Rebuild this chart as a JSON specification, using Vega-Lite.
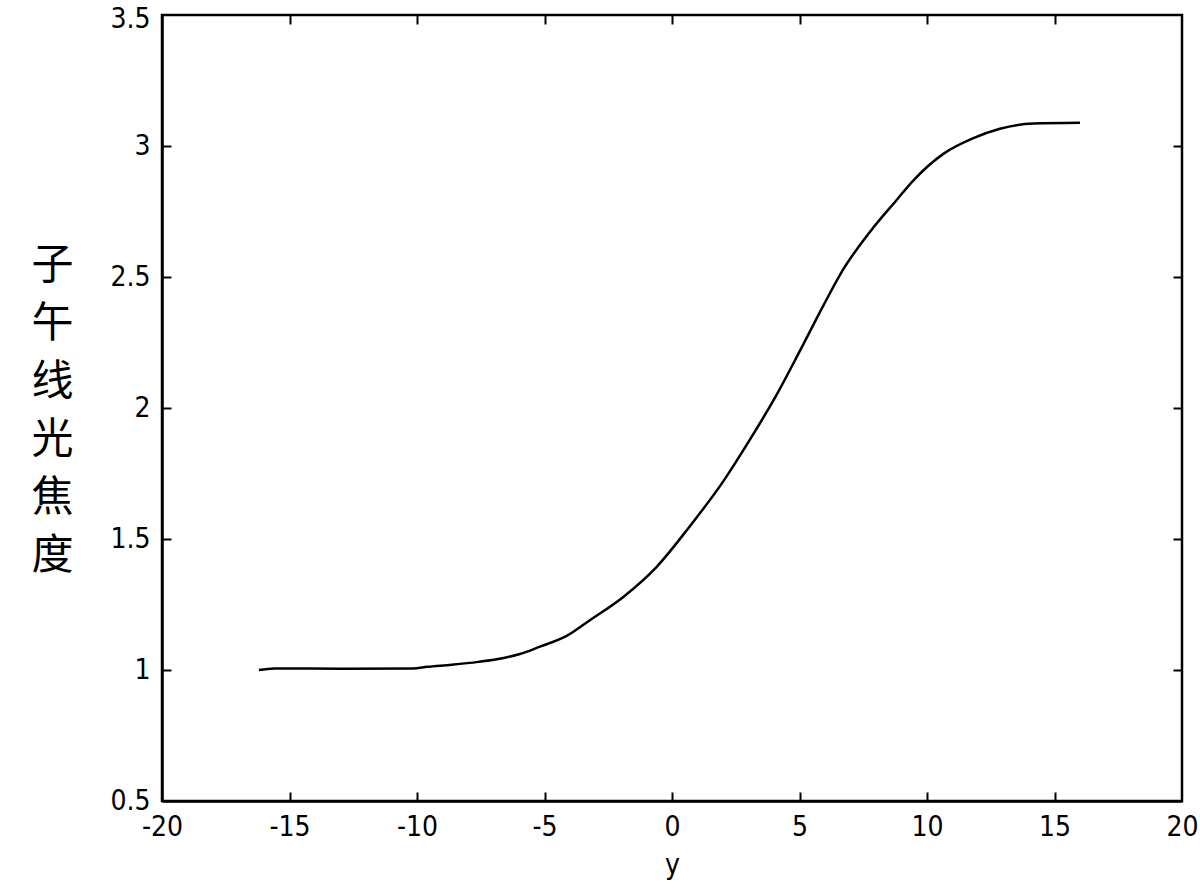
{
  "$schema": "https://vega.github.io/schema/vega-lite/v6.json",
  "width": 1020,
  "height": 786,
  "autosize": "none",
  "padding": {"left": 162, "top": 15, "right": 18, "bottom": 87},
  "background": "white",
  "config": {
    "view": {"stroke": "black", "strokeWidth": 2.5},
    "axis": {"grid": false, "domainColor": "black", "domainWidth": 2.5, "tickColor": "black", "tickWidth": 2, "labelColor": "black", "titleColor": "black", "labelFont": "DejaVu Sans Condensed, DejaVu Sans, sans-serif", "titleFont": "DejaVu Sans Condensed, DejaVu Sans, sans-serif"}
  },
  "data": {
    "values": [
      {"x": -16.2, "f": 1.0},
      {"x": -15.6, "f": 1.006},
      {"x": -13, "f": 1.005},
      {"x": -10.15, "f": 1.006},
      {"x": -9.6, "f": 1.012},
      {"x": -8.64, "f": 1.02},
      {"x": -7.6, "f": 1.031},
      {"x": -6.6, "f": 1.046},
      {"x": -6.0, "f": 1.06},
      {"x": -5.18, "f": 1.089},
      {"x": -4.13, "f": 1.13},
      {"x": -3.22, "f": 1.19},
      {"x": -1.91, "f": 1.279},
      {"x": -0.6, "f": 1.394},
      {"x": 0.71, "f": 1.55},
      {"x": 2.01, "f": 1.72},
      {"x": 3.06, "f": 1.88},
      {"x": 4.1, "f": 2.05},
      {"x": 5.0, "f": 2.215},
      {"x": 5.93, "f": 2.39},
      {"x": 6.72, "f": 2.53},
      {"x": 7.76, "f": 2.672},
      {"x": 8.81, "f": 2.794},
      {"x": 9.46, "f": 2.868},
      {"x": 10.64, "f": 2.97},
      {"x": 11.82, "f": 3.03},
      {"x": 12.86, "f": 3.066},
      {"x": 14.17, "f": 3.086},
      {"x": 16.0, "f": 3.089}
    ]
  },
  "resolve": {"axis": {"x": "independent", "y": "independent"}},
  "layer": [
    {
      "mark": {"type": "line", "color": "black", "strokeWidth": 2.5, "interpolate": "monotone"},
      "encoding": {
        "x": {
          "field": "x", "type": "quantitative",
          "scale": {"domain": [-20, 20], "nice": false, "zero": false},
          "axis": {
            "orient": "bottom",
            "values": [-20, -15, -10, -5, 0, 5, 10, 15, 20],
            "labelExpr": "'' + datum.value",
            "ticks": false, "labelPadding": 12, "labelFontSize": 28, "labelFlush": false,
            "title": "y", "titleFontSize": 28, "titleFontWeight": "normal", "titlePadding": 10
          }
        },
        "y": {
          "field": "f", "type": "quantitative",
          "scale": {"domain": [0.5, 3.5], "nice": false, "zero": false},
          "axis": {
            "orient": "left",
            "values": [0.5, 1, 1.5, 2, 2.5, 3, 3.5],
            "labelExpr": "'' + datum.value",
            "labelOffset": {"condition": {"test": "datum.value == 3.5", "value": 4}, "value": 0},
            "ticks": false, "labelPadding": 12, "labelFontSize": 28, "labelFlush": false,
            "title": ["子", "午", "线", "光", "焦", "度"],
            "titleFont": "Noto Sans CJK SC", "titleFontSize": 42, "titleFontWeight": "normal",
            "titleAngle": 0, "titleLineHeight": 58, "titleAlign": "center", "titleBaseline": "middle",
            "titleX": -110, "titleY": 250
          }
        }
      }
    },
    {
      "mark": {"type": "line", "strokeOpacity": 0},
      "encoding": {
        "x": {
          "field": "x", "type": "quantitative",
          "axis": {"orient": "bottom", "offset": -9, "values": [-15, -10, -5, 0, 5, 10, 15], "domain": false, "labels": false, "tickSize": 9, "title": null}
        },
        "y": {
          "field": "f", "type": "quantitative",
          "axis": {"orient": "left", "offset": -9, "values": [1, 1.5, 2, 2.5, 3], "domain": false, "labels": false, "tickSize": 9, "title": null}
        }
      }
    },
    {
      "mark": {"type": "line", "strokeOpacity": 0},
      "encoding": {
        "x": {
          "field": "x", "type": "quantitative",
          "axis": {"orient": "top", "offset": -9, "values": [-15, -10, -5, 0, 5, 10, 15], "domain": false, "labels": false, "tickSize": 9, "title": null}
        },
        "y": {
          "field": "f", "type": "quantitative",
          "axis": {"orient": "right", "offset": -9, "values": [1, 1.5, 2, 2.5, 3], "domain": false, "labels": false, "tickSize": 9, "title": null}
        }
      }
    }
  ]
}
